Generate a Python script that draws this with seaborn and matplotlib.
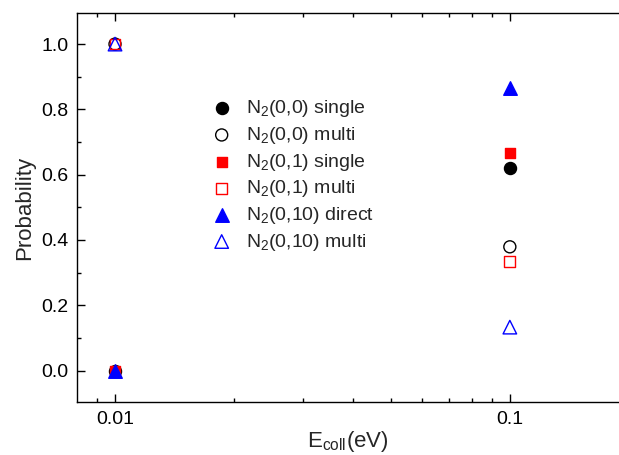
import matplotlib
matplotlib.use("Agg")
import matplotlib.pyplot as plt
import seaborn as sns
import pandas as pd
import numpy as np
from matplotlib.ticker import FixedLocator, NullFormatter, MultipleLocator

sns.set_style("ticks")
plt.rcParams['font.family'] = ['Liberation Sans', 'DejaVu Sans']
plt.rcParams['mathtext.fontset'] = 'custom'
plt.rcParams['mathtext.rm'] = 'Liberation Sans'
plt.rcParams['mathtext.it'] = 'Liberation Sans'
plt.rcParams['mathtext.default'] = 'regular'

energies = [0.01, 0.1]
labels = [r'N$_2$(0,0) single', r'N$_2$(0,0) multi',
          r'N$_2$(0,1) single', r'N$_2$(0,1) multi',
          r'N$_2$(0,10) direct', r'N$_2$(0,10) multi']
values = [
    [0.0, 0.621],
    [1.0, 0.379],
    [0.0, 0.667],
    [1.0, 0.333],
    [0.0, 0.867],
    [1.0, 0.133],
]
markers = ['o', 'o', 's', 's', '^', '^']
colors = ['black', 'black', 'red', 'red', 'blue', 'blue']
filled = [True, False, True, False, True, False]
sizes = [75, 75, 60, 60, 95, 95]

fig = plt.figure(figsize=(6.19, 4.55), dpi=100)
ax = fig.add_axes([0.124, 0.116, 0.876, 0.856])

for lab, vals, m, c, f, s in zip(labels, values, markers, colors, filled, sizes):
    df = pd.DataFrame({'E': energies, 'P': vals})
    sns.scatterplot(data=df, x='E', y='P', ax=ax, marker=m, s=s,
                    color=c if f else 'none', edgecolor=c,
                    linewidth=1.0, label=lab, zorder=3)

ax.set_xscale('log')
ax.set_xlim(0.0080, 0.189)
ax.set_ylim(-0.097, 1.096)
ax.xaxis.set_major_locator(FixedLocator([0.01, 0.1]))
ax.set_xticklabels(['0.01', '0.1'])
ax.xaxis.set_minor_locator(FixedLocator([0.009] + [i * 0.01 for i in range(2, 10)] + [0.2]))
ax.xaxis.set_minor_formatter(NullFormatter())
ax.yaxis.set_major_locator(MultipleLocator(0.2))
ax.yaxis.set_minor_locator(MultipleLocator(0.1))
ax.set_yticks([0.0, 0.2, 0.4, 0.6, 0.8, 1.0])
ax.set_yticklabels(['0.0', '0.2', '0.4', '0.6', '0.8', '1.0'])

ax.tick_params(which='both', direction='in', top=True, right=False,
               labelsize=14, width=1.0, colors='black')
ax.tick_params(which='major', length=5.5, pad=6)
ax.tick_params(which='minor', length=3)
for sp in ['left', 'bottom', 'top']:
    ax.spines[sp].set_linewidth(1.0)
    ax.spines[sp].set_color('black')
ax.spines['right'].set_visible(False)

ax.set_xlabel(r'E$_{coll}$(eV)', fontsize=16, labelpad=1)
ax.set_ylabel('Probability', fontsize=16, labelpad=4)

leg = ax.legend(loc='upper left', bbox_to_anchor=(0.235, 0.80), frameon=False,
                fontsize=14, handletextpad=0.75, labelspacing=0.29,
                borderaxespad=0, handlelength=1.0)

fig.savefig('out.png', dpi=100)
